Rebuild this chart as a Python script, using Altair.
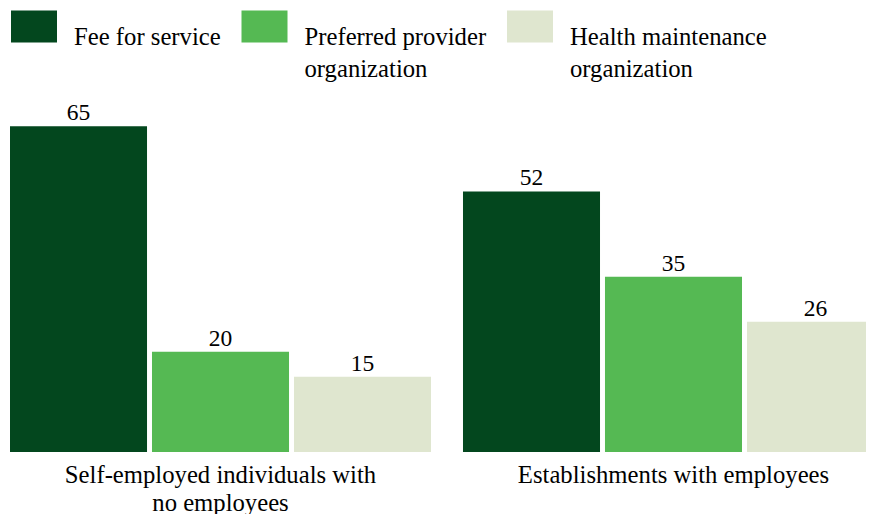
import altair as alt
import pandas as pd

groups = ["Self-employed individuals with no employees", "Establishments with employees"]
series = ["Fee for service", "Preferred provider organization", "Health maintenance organization"]
self_employed = [65, 20, 15]
establishments = [52, 35, 26]
colors = ["#03471e", "#55b953", "#dfe6cf"]

rows = []
for g, vals in zip(groups, [self_employed, establishments]):
    for s, v in zip(series, vals):
        rows.append({"group": g, "series": s, "value": v})
df = pd.DataFrame(rows)

FONT = "Liberation Serif"

base = alt.Chart(df).encode(
    x=alt.X(
        "group:N", sort=groups,
        scale=alt.Scale(paddingInner=0.0706, paddingOuter=0),
        axis=alt.Axis(
            title=None, domain=False, ticks=False, tickSize=0, labelAngle=0,
            labelPadding=10.5, labelFontSize=24.7, labelFont=FONT, labelColor="#000",
            labelLineHeight=28, labelBaseline="top", labelLimit=0,
            labelExpr="split(replace(datum.label, 'with no', 'with|no'), '|')",
        ),
    ),
    xOffset=alt.XOffset("series:N", sort=series,
                        scale=alt.Scale(paddingInner=0.035, paddingOuter=0)),
    y=alt.Y("value:Q", scale=alt.Scale(domain=[0, 70.26]), axis=None),
)

bars = base.mark_bar().encode(
    color=alt.Color(
        "series:N", sort=series,
        scale=alt.Scale(domain=series, range=colors),
        legend=alt.Legend(
            title=None, orient="none", legendX=1, legendY=-98.5,
            direction="horizontal", columns=3, columnPadding=20.5,
            symbolType="M-1,-0.617L1,-0.617L1,0.774L-1,0.774Z",
            symbolSize=2116, symbolStrokeWidth=0, symbolOpacity=1,
            labelFont=FONT, labelFontSize=24.7, labelColor="#000",
            labelBaseline="top", labelOffset=17, labelLimit=0, padding=0,
            labelExpr="indexof(datum.label, ' organization') >= 0 ? split(replace(datum.label, ' organization', '|organization'), '|') : [datum.label, ' ']",
        ),
    )
)

text = base.mark_text(baseline="alphabetic", dy=-6, fontSize=23.5, font=FONT, color="#000").encode(
    text="value:Q"
)

chart = (
    alt.layer(bars, text)
    .properties(
        width=874, height=352, autosize="none",
        padding={"left": 2, "top": 92, "right": -18, "bottom": 70},
    )
    .configure(
        view=alt.ViewConfig(stroke=None),
        style={"guide-label": {"lineHeight": 32}},
    )
)

chart.save("out.html", embed_options={"renderer": "svg", "actions": False})
